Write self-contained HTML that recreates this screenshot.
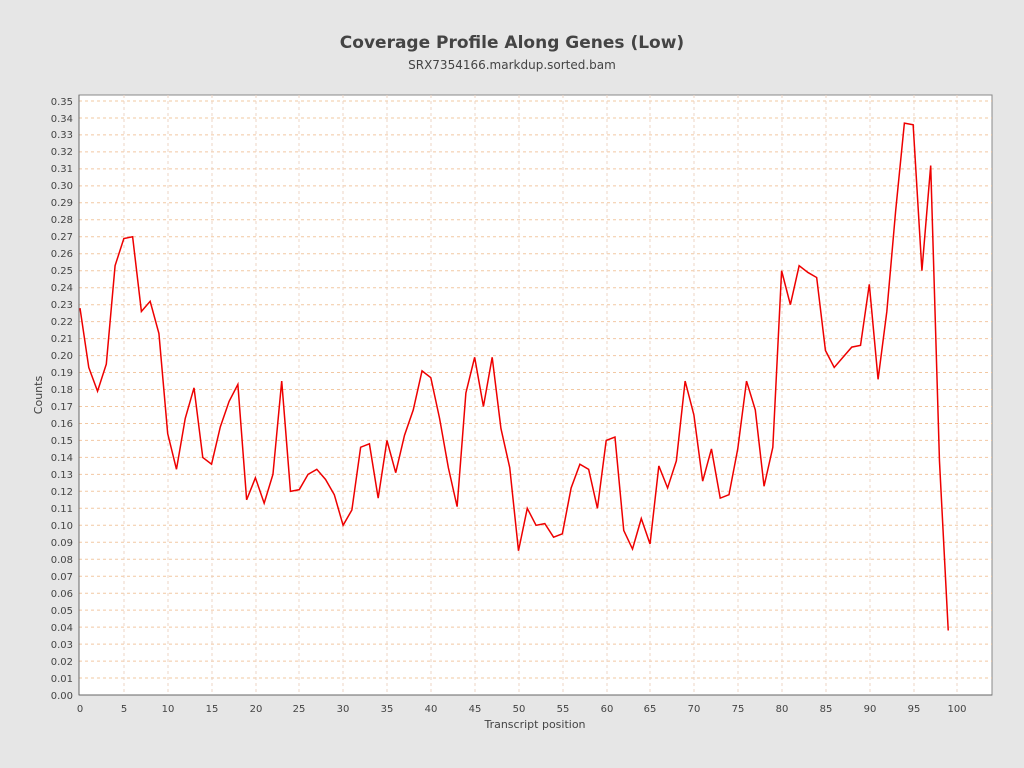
<!DOCTYPE html>
<html><head><style>
body{margin:0;background:#e6e6e6;}
svg{display:block;font-family:"DejaVu Sans","Liberation Sans",sans-serif;}
</style></head><body>
<svg width="1024" height="768" viewBox="0 0 1024 768">
<rect x="0" y="0" width="1024" height="768" fill="#e6e6e6"/>
<text x="512" y="48" text-anchor="middle" font-size="17" font-weight="bold" fill="#444">Coverage Profile Along Genes (Low)</text>
<text x="512" y="69" text-anchor="middle" font-size="12" fill="#444">SRX7354166.markdup.sorted.bam</text>
<rect x="79" y="95" width="913" height="600" fill="#fff" stroke="#888"/>
<g stroke="#f2c8a2" stroke-dasharray="3,3" stroke-width="1">
<line x1="79" x2="992" y1="678.0" y2="678.0"/><line x1="79" x2="992" y1="661.1" y2="661.1"/><line x1="79" x2="992" y1="644.1" y2="644.1"/><line x1="79" x2="992" y1="627.1" y2="627.1"/><line x1="79" x2="992" y1="610.1" y2="610.1"/><line x1="79" x2="992" y1="593.2" y2="593.2"/><line x1="79" x2="992" y1="576.2" y2="576.2"/><line x1="79" x2="992" y1="559.2" y2="559.2"/><line x1="79" x2="992" y1="542.3" y2="542.3"/><line x1="79" x2="992" y1="525.3" y2="525.3"/><line x1="79" x2="992" y1="508.3" y2="508.3"/><line x1="79" x2="992" y1="491.3" y2="491.3"/><line x1="79" x2="992" y1="474.4" y2="474.4"/><line x1="79" x2="992" y1="457.4" y2="457.4"/><line x1="79" x2="992" y1="440.4" y2="440.4"/><line x1="79" x2="992" y1="423.5" y2="423.5"/><line x1="79" x2="992" y1="406.5" y2="406.5"/><line x1="79" x2="992" y1="389.5" y2="389.5"/><line x1="79" x2="992" y1="372.5" y2="372.5"/><line x1="79" x2="992" y1="355.6" y2="355.6"/><line x1="79" x2="992" y1="338.6" y2="338.6"/><line x1="79" x2="992" y1="321.6" y2="321.6"/><line x1="79" x2="992" y1="304.7" y2="304.7"/><line x1="79" x2="992" y1="287.7" y2="287.7"/><line x1="79" x2="992" y1="270.7" y2="270.7"/><line x1="79" x2="992" y1="253.7" y2="253.7"/><line x1="79" x2="992" y1="236.8" y2="236.8"/><line x1="79" x2="992" y1="219.8" y2="219.8"/><line x1="79" x2="992" y1="202.8" y2="202.8"/><line x1="79" x2="992" y1="185.9" y2="185.9"/><line x1="79" x2="992" y1="168.9" y2="168.9"/><line x1="79" x2="992" y1="151.9" y2="151.9"/><line x1="79" x2="992" y1="134.9" y2="134.9"/><line x1="79" x2="992" y1="118.0" y2="118.0"/><line x1="79" x2="992" y1="101.0" y2="101.0"/>
</g>
<g stroke="#ecd4c4" stroke-dasharray="3,3">
<line y1="95" y2="695" x1="124" x2="124"/><line y1="95" y2="695" x1="168" x2="168"/><line y1="95" y2="695" x1="212" x2="212"/><line y1="95" y2="695" x1="256" x2="256"/><line y1="95" y2="695" x1="299" x2="299"/><line y1="95" y2="695" x1="343" x2="343"/><line y1="95" y2="695" x1="387" x2="387"/><line y1="95" y2="695" x1="431" x2="431"/><line y1="95" y2="695" x1="475" x2="475"/><line y1="95" y2="695" x1="519" x2="519"/><line y1="95" y2="695" x1="563" x2="563"/><line y1="95" y2="695" x1="607" x2="607"/><line y1="95" y2="695" x1="650" x2="650"/><line y1="95" y2="695" x1="694" x2="694"/><line y1="95" y2="695" x1="738" x2="738"/><line y1="95" y2="695" x1="782" x2="782"/><line y1="95" y2="695" x1="826" x2="826"/><line y1="95" y2="695" x1="870" x2="870"/><line y1="95" y2="695" x1="914" x2="914"/><line y1="95" y2="695" x1="957" x2="957"/>
</g>
<line x1="79" y1="695" x2="992" y2="695" stroke="#666"/>
<line x1="79" y1="95" x2="79" y2="695" stroke="#666"/>
<g font-size="10" fill="#444" text-anchor="end">
<text x="73" y="699">0.00</text><text x="73" y="682">0.01</text><text x="73" y="665">0.02</text><text x="73" y="648">0.03</text><text x="73" y="631">0.04</text><text x="73" y="614">0.05</text><text x="73" y="597">0.06</text><text x="73" y="580">0.07</text><text x="73" y="563">0.08</text><text x="73" y="546">0.09</text><text x="73" y="529">0.10</text><text x="73" y="512">0.11</text><text x="73" y="495">0.12</text><text x="73" y="478">0.13</text><text x="73" y="461">0.14</text><text x="73" y="444">0.15</text><text x="73" y="427">0.16</text><text x="73" y="410">0.17</text><text x="73" y="393">0.18</text><text x="73" y="376">0.19</text><text x="73" y="359">0.20</text><text x="73" y="342">0.21</text><text x="73" y="325">0.22</text><text x="73" y="308">0.23</text><text x="73" y="291">0.24</text><text x="73" y="274">0.25</text><text x="73" y="257">0.26</text><text x="73" y="240">0.27</text><text x="73" y="223">0.28</text><text x="73" y="206">0.29</text><text x="73" y="189">0.30</text><text x="73" y="172">0.31</text><text x="73" y="155">0.32</text><text x="73" y="138">0.33</text><text x="73" y="122">0.34</text><text x="73" y="105">0.35</text>
</g>
<g font-size="10" fill="#444" text-anchor="middle">
<text x="80" y="712">0</text><text x="124" y="712">5</text><text x="168" y="712">10</text><text x="212" y="712">15</text><text x="256" y="712">20</text><text x="299" y="712">25</text><text x="343" y="712">30</text><text x="387" y="712">35</text><text x="431" y="712">40</text><text x="475" y="712">45</text><text x="519" y="712">50</text><text x="563" y="712">55</text><text x="607" y="712">60</text><text x="650" y="712">65</text><text x="694" y="712">70</text><text x="738" y="712">75</text><text x="782" y="712">80</text><text x="826" y="712">85</text><text x="870" y="712">90</text><text x="914" y="712">95</text><text x="957" y="712">100</text>
</g>
<text x="535" y="728" font-size="11" fill="#444" text-anchor="middle">Transcript position</text>
<text transform="translate(42,395) rotate(-90)" font-size="11" fill="#444" text-anchor="middle">Counts</text>
<g transform="translate(80,695) scale(8.77,-1697)">
<polyline fill="none" stroke="#ee0000" stroke-width="1.5" vector-effect="non-scaling-stroke" points="0,0.228 1,0.193 2,0.179 3,0.195 4,0.253 5,0.269 6,0.270 7,0.226 8,0.232 9,0.213 10,0.154 11,0.133 12,0.163 13,0.181 14,0.140 15,0.136 16,0.158 17,0.173 18,0.183 19,0.115 20,0.128 21,0.113 22,0.130 23,0.185 24,0.120 25,0.121 26,0.130 27,0.133 28,0.127 29,0.118 30,0.100 31,0.109 32,0.146 33,0.148 34,0.116 35,0.150 36,0.131 37,0.153 38,0.168 39,0.191 40,0.187 41,0.163 42,0.134 43,0.111 44,0.178 45,0.199 46,0.170 47,0.199 48,0.157 49,0.134 50,0.085 51,0.110 52,0.100 53,0.101 54,0.093 55,0.095 56,0.122 57,0.136 58,0.133 59,0.110 60,0.150 61,0.152 62,0.097 63,0.086 64,0.104 65,0.089 66,0.135 67,0.122 68,0.138 69,0.185 70,0.165 71,0.126 72,0.145 73,0.116 74,0.118 75,0.145 76,0.185 77,0.168 78,0.123 79,0.146 80,0.250 81,0.230 82,0.253 83,0.249 84,0.246 85,0.203 86,0.193 87,0.199 88,0.205 89,0.206 90,0.242 91,0.186 92,0.226 93,0.285 94,0.337 95,0.336 96,0.250 97,0.312 98,0.138 99,0.038"/>
</g>
</svg>
</body></html>
